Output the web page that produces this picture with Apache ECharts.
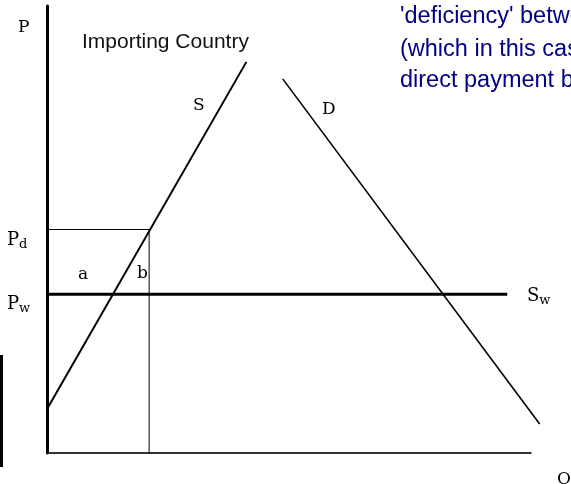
<!DOCTYPE html>
<html>
<head>
<meta charset="utf-8">
<script src="https://cdn.jsdelivr.net/npm/echarts@6/dist/echarts.min.js"></script>
<style>
html,body{margin:0;padding:0;background:#fff;}
#chart{width:571px;height:484px;}
</style>
</head>
<body>
<div id="chart"></div>
<script>
// Quantity (x) and price (y) in chart units; the drawn Q axis runs 0..100
const supplyQ = [0, 41.1];
const supplyP = [10, 87.5];
const demandQ = [48.6, 101.7];
const demandP = [83.7, 6.5];
const worldPrice = 35.5;
const worldLineQ = [0, 95];
const domesticPrice = 50;
const domesticQ = 21;
const qAxisEnd = 100;
const qRangeMax = 102.8;
const titleText = 'Importing Country';
const noteLines = ["'deficiency' between", '(which in this case', 'direct payment by'];

const chart = echarts.init(document.getElementById('chart'), null, {renderer: 'canvas'});
const pair = (xs, ys) => xs.map((x, i) => [x, ys[i]]);
const labelFont = 'DejaVu Serif';
const blk = '#000';

const lineSeries = (data, width, color) => ({
  type: 'line', data: data, showSymbol: false, symbol: 'none', silent: true,
  lineStyle: {color: color || blk, width: width}, animation: false, z: 3
});
const sub = (a, b, x, y) => ({type: 'text', x: x, y: y, style: {text: '{m|' + a + '}{s|' + b + '}', fill: blk, verticalAlign: 'middle',
  rich: {m: {fontFamily: labelFont, fontSize: 18}, s: {fontFamily: labelFont, fontSize: 13, padding: [9, 0, 0, 0]}}}});
const lbl = (t, x, y) => ({type: 'text', x: x, y: y, style: {text: t, font: '17px "' + labelFont + '"', fill: blk, verticalAlign: 'middle'}});
const note = (t, y) => ({type: 'text', x: 400, y: y, style: {text: t, font: '23.5px "Liberation Sans", Arial', fill: '#000080', verticalAlign: 'middle'}});

const option = {
  animation: false,
  backgroundColor: '#fff',
  grid: {left: 47.5, right: 26, top: 6, bottom: 31, containLabel: false},
  xAxis: {
    type: 'value', min: 0, max: qRangeMax,
    axisLine: {show: false}, axisTick: {show: false}, axisLabel: {show: false}, splitLine: {show: false}
  },
  yAxis: {
    type: 'value', min: 0, max: 100,
    axisLine: {show: true, onZero: false, lineStyle: {color: '#000', width: 3}},
    axisTick: {show: false}, axisLabel: {show: false}, splitLine: {show: false}
  },
  series: [
    lineSeries([[0, 0], [qAxisEnd, 0]], 2, '#333'),
    lineSeries(pair(supplyQ, supplyP), 2),
    lineSeries(pair(demandQ, demandP), 1.6),
    lineSeries(pair(worldLineQ, [worldPrice, worldPrice]), 3),
    lineSeries([[0, domesticPrice], [domesticQ, domesticPrice]], 1),
    lineSeries([[domesticQ, 0], [domesticQ, domesticPrice]], 1)
  ],
  graphic: [
    {type: 'rect', shape: {x: 0, y: 355, width: 3, height: 112}, style: {fill: '#000'}},
    lbl('P', 18, 28),
    {type: 'text', x: 82, y: 42, style: {text: titleText, font: '21px "Liberation Sans", Arial', fill: '#111', verticalAlign: 'middle'}},
    lbl('S', 193, 106),
    lbl('D', 322, 110),
    lbl('a', 78, 275),
    lbl('b', 137, 274),
    sub('P', 'd', 7, 240),
    sub('P', 'w', 7, 304),
    sub('S', 'w', 527, 296),
    lbl('Q', 557, 480),
    note(noteLines[0], 17),
    note(noteLines[1], 50),
    note(noteLines[2], 81)
  ]
};
chart.setOption(option);
</script>
</body>
</html>
